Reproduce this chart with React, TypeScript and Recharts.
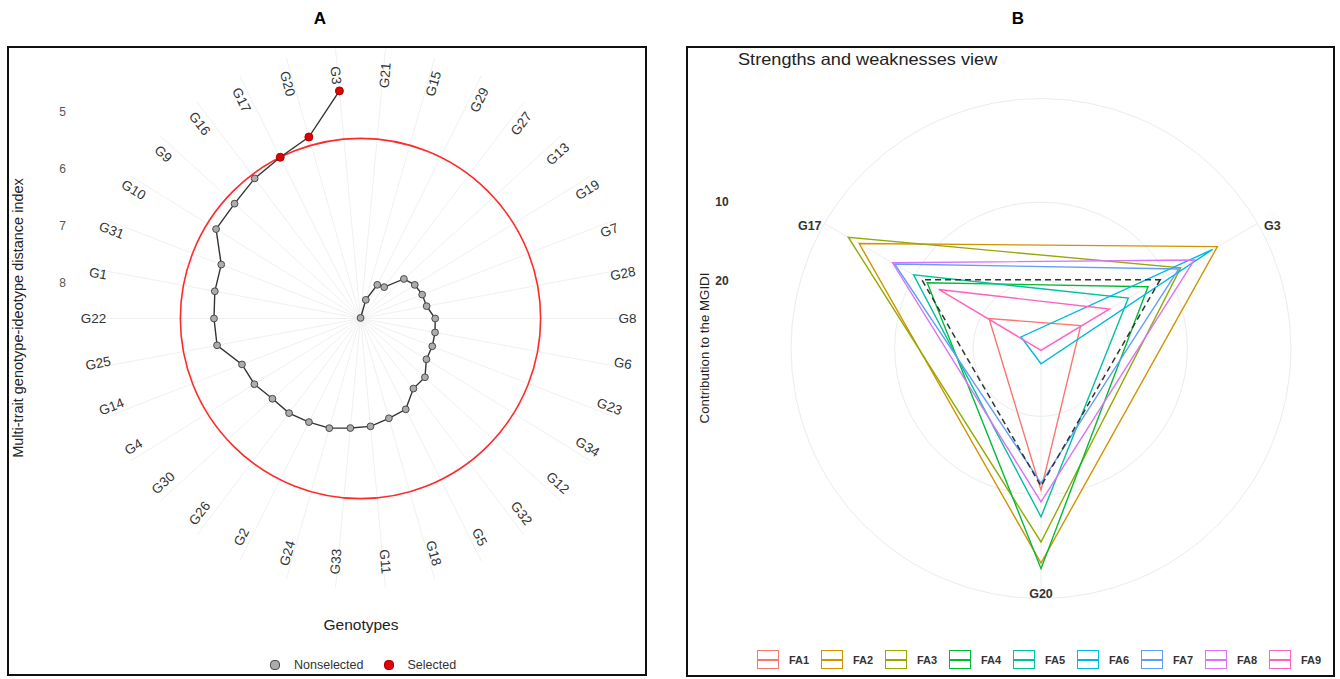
import React from 'react';
import { RadarChart, Radar, PolarGrid, PolarAngleAxis, PolarRadiusAxis } from 'recharts';

const FONT = '"Liberation Sans", Arial, Helvetica, sans-serif';

// ---- panel A: MGIDI per genotype (clockwise from the top) ----
const genotypes = [
  'G21', 'G15', 'G29', 'G27', 'G13', 'G19', 'G7', 'G28', 'G8', 'G6', 'G23', 'G34',
  'G12', 'G32', 'G5', 'G18', 'G11', 'G33', 'G24', 'G2', 'G26', 'G30', 'G4', 'G14',
  'G25', 'G22', 'G1', 'G31', 'G10', 'G9', 'G16', 'G17', 'G20', 'G3',
];
const mgidi = [
  8.61, 8.28, 7.96, 7.93, 7.59, 7.50, 7.46, 7.44, 7.31, 7.29, 7.27, 7.26,
  7.09, 7.08, 6.84, 6.80, 6.72, 6.69, 6.62, 6.59, 6.54, 6.53, 6.43, 6.39,
  6.06, 6.05, 6.02, 6.00, 5.64, 5.63, 5.54, 5.46, 5.31, 4.61,
];
const selectedGenotypes = ['G3', 'G20', 'G17'];
const cutoff = 5.46;
const mgidiTicks = [5, 6, 7, 8];

const spiralData = genotypes.map((g, i) => ({
  gen: g,
  mgidi: mgidi[i],
  cutoff,
  selected: selectedGenotypes.includes(g),
}));

// ---- panel B: contribution of each factor to the MGIDI ----
const radarGenotypes = ['G3', 'G20', 'G17'];
const factors = ['FA1', 'FA2', 'FA3', 'FA4', 'FA5', 'FA6', 'FA7', 'FA8', 'FA9'];
const factorColors = ['#F8766D', '#D39200', '#93AA00', '#00BA38', '#00C19F', '#00B9E3', '#619CFF', '#DB72FB', '#FF61C3'];
const fa1 = [22.8, 10.6, 21.0];
const fa2 = [2.7, 1.3, 1.9];
const fa3 = [8.1, 4.0, 0.3];
const fa4 = [12.9, 0.6, 11.9];
const fa5 = [15.8, 7.2, 9.9];
const fa6 = [3.4, 26.7, 25.7];
const fa7 = [8.4, 11.5, 7.1];
const fa8 = [6.1, 9.1, 6.8];
const fa9 = [18.6, 28.4, 13.6];
const factorValues = [fa1, fa2, fa3, fa4, fa5, fa6, fa7, fa8, fa9];
const equalContribution = 100 / 9;
const contribDomain = [-3.2, 28.64];
const contribLabels = [10, 20];

const contribData = radarGenotypes.map((g, i) => {
  const row: any = { gen: g, equal: equalContribution };
  factors.forEach((f, k) => { row[f] = factorValues[k][i]; });
  return row;
});

// open path through the points (no closing segment)
const SpiralPath = (props: any) => {
  const pts = props.points || [];
  const d = pts.map((p: any, i: number) => `${i ? 'L' : 'M'}${p.x},${p.y}`).join('');
  return <path d={d} fill="none" stroke="#333" strokeWidth={1.4} />;
};

const CutoffCircle = (props: any) => {
  const p = props.points && props.points[0];
  if (!p) return null;
  return <circle cx={p.cx} cy={p.cy} r={p.radius} fill="none" stroke="#ff2a2a" strokeWidth={1.6} />;
};

const SpiralDot = (p: any) => {
  const row = (p.payload && p.payload.payload) || p.payload || {};
  const sel = row.selected;
  return (
    <circle key={`d${p.index}`} cx={p.cx} cy={p.cy} r={sel ? 4 : 3.4}
      fill={sel ? '#e00000' : '#acacac'} stroke={sel ? '#b00000' : '#4a4a4a'} strokeWidth={1} />
  );
};

// labels follow the spoke direction; the reference is slightly wider than tall
const stretch = (p: any, kx: number, ky: number) => ({
  x: typeof p.cx === 'number' ? p.cx + (p.x - p.cx) * kx : p.x,
  y: typeof p.cy === 'number' ? p.cy + (p.y - p.cy) * ky : p.y,
});

const GenoTick = (p: any) => {
  let rot = -p.payload.coordinate;
  while (rot > 90) rot -= 180;
  while (rot <= -90) rot += 180;
  const { x, y } = stretch(p, 1.055, 0.965);
  return (
    <text x={x} y={y} transform={`rotate(${rot} ${x} ${y})`} textAnchor="middle"
      dominantBaseline="central" fontSize={13.5} fill="#333" fontFamily={FONT}>
      {p.payload.value}
    </text>
  );
};

const MgidiTick = (p: any) => (
  <text x={p.x - 298} y={p.y} textAnchor="middle" dominantBaseline="central" fontSize={12}
    fill="#555" fontFamily={FONT}>
    {p.payload.value}
  </text>
);

const RadarGenTick = (p: any) => {
  const { x, y } = stretch(p, 1.09, 1);
  return (
    <text x={x} y={y} textAnchor="middle" dominantBaseline="central" fontSize={12.5}
      fontWeight="bold" fill="#333" fontFamily={FONT}>
      {p.payload.value}
    </text>
  );
};

const ContribTick = (p: any) => {
  if (!contribLabels.includes(p.payload.value)) return null;
  return (
    <text x={p.x - 319} y={p.y} textAnchor="middle" dominantBaseline="central" fontSize={12}
      fontWeight="bold" fill="#333" fontFamily={FONT}>
      {p.payload.value}
    </text>
  );
};

const abs = (s: React.CSSProperties): React.CSSProperties => ({ position: 'absolute', fontFamily: FONT, ...s });

export default function App() {
  return (
    <div style={abs({ left: 0, top: 0, width: 1340, height: 679, background: '#fff', overflow: 'hidden' })}>
      <div style={abs({ left: 300, top: 9, width: 40, textAlign: 'center', fontWeight: 'bold', fontSize: 17 })}>A</div>
      <div style={abs({ left: 998, top: 9, width: 40, textAlign: 'center', fontWeight: 'bold', fontSize: 17 })}>B</div>

      {/* panel A */}
      <div style={abs({ left: 0, top: 0 })}>
        <RadarChart width={680} height={679} data={spiralData} cx={360.5} cy={318.5} outerRadius={271}
          startAngle={90 - 360 / 68} endAngle={90 - 360 / 68 - 360} margin={{ top: 0, right: 0, bottom: 0, left: 0 }}>
          <PolarGrid gridType="circle" polarRadius={[]} stroke="#ececec" strokeWidth={0.8} />
          <PolarAngleAxis dataKey="gen" axisLine={false} tickLine={false} orientation="inner" tickSize={18} tick={GenoTick} />
          <PolarRadiusAxis angle={90} type="number" scale="linear" domain={[3.866, 8.62]} reversed ticks={mgidiTicks}
            tickCount={mgidiTicks.length} allowDecimals axisLine={false} allowDataOverflow tick={MgidiTick} />
          <Radar dataKey="cutoff" shape={CutoffCircle} dot={false} isAnimationActive={false} />
          <Radar dataKey="mgidi" shape={SpiralPath} dot={SpiralDot} isAnimationActive={false} />
        </RadarChart>
      </div>
      <div style={abs({ left: 7, top: 46, width: 636, height: 626, border: '2px solid #111' })} />
      <div style={abs({ left: 18, top: 318, width: 0, height: 0 })}>
        <div style={{ position: 'absolute', transform: 'translate(-50%, -50%) rotate(-90deg)', whiteSpace: 'nowrap', fontSize: 14.5, color: '#222' }}>
          Multi-trait genotype-ideotype distance index
        </div>
      </div>
      <div style={abs({ left: 261, top: 616, width: 200, textAlign: 'center', fontSize: 15.5, color: '#222' })}>Genotypes</div>
      <div style={abs({ left: 270, top: 658, display: 'flex', alignItems: 'center', fontSize: 12.5, color: '#333' })}>
        <span style={{ width: 8, height: 8, borderRadius: 4, background: '#acacac', border: '1px solid #4a4a4a', marginRight: 14 }} />
        <span style={{ marginRight: 20 }}>Nonselected</span>
        <span style={{ width: 8, height: 8, borderRadius: 4, background: '#e00000', border: '1px solid #b00000', marginRight: 14 }} />
        <span>Selected</span>
      </div>

      {/* panel B */}
      <div style={abs({ left: 680, top: 0 })}>
        <RadarChart width={660} height={679} data={contribData} cx={361} cy={348.5} outerRadius={250}
          startAngle={30} endAngle={-330} margin={{ top: 0, right: 0, bottom: 0, left: 0 }}>
          <PolarGrid gridType="circle" stroke="#ececec" strokeWidth={1} />
          <PolarAngleAxis dataKey="gen" axisLine={false} tickLine={false} orientation="inner" tickSize={5} tick={RadarGenTick} />
          <PolarRadiusAxis angle={90} type="number" scale="linear" domain={contribDomain} reversed
            ticks={[contribDomain[0], ...contribLabels]} tickCount={3} allowDecimals
            axisLine={false} allowDataOverflow tick={ContribTick} />
          {factors.map((f, k) => (
            <Radar key={f} dataKey={f} stroke={factorColors[k]} strokeWidth={1.4} fill="none" fillOpacity={0}
              dot={false} isAnimationActive={false} />
          ))}
          <Radar dataKey="equal" stroke="#333" strokeWidth={1.5} strokeDasharray="6 4" fill="none" fillOpacity={0}
            dot={false} isAnimationActive={false} />
        </RadarChart>
      </div>
      <div style={abs({ left: 686, top: 46, width: 645, height: 627, border: '2px solid #111' })} />
      <div style={abs({ left: 738, top: 50, fontSize: 16.5, color: '#222', transform: 'scaleX(1.1)', transformOrigin: 'left center', whiteSpace: 'nowrap' })}>
        Strengths and weaknesses view
      </div>
      <div style={abs({ left: 704, top: 348, width: 0, height: 0 })}>
        <div style={{ position: 'absolute', transform: 'translate(-50%, -50%) rotate(-90deg)', whiteSpace: 'nowrap', fontSize: 13.3, color: '#222' }}>
          Contribution to the MGIDI
        </div>
      </div>
      <div style={abs({ left: 757, top: 650, display: 'flex', alignItems: 'center' })}>
        {factors.map((f, k) => (
          <div key={f} style={{ display: 'flex', alignItems: 'center', width: 64 }}>
            <div style={{ position: 'relative', width: 20, height: 17, border: `1.5px solid ${factorColors[k]}`, marginRight: 10 }}>
              <div style={{ position: 'absolute', left: 0, right: 0, top: 8, height: 1.5, background: factorColors[k] }} />
            </div>
            <span style={{ fontSize: 11, fontWeight: 'bold', color: '#333' }}>{f}</span>
          </div>
        ))}
      </div>
    </div>
  );
}
